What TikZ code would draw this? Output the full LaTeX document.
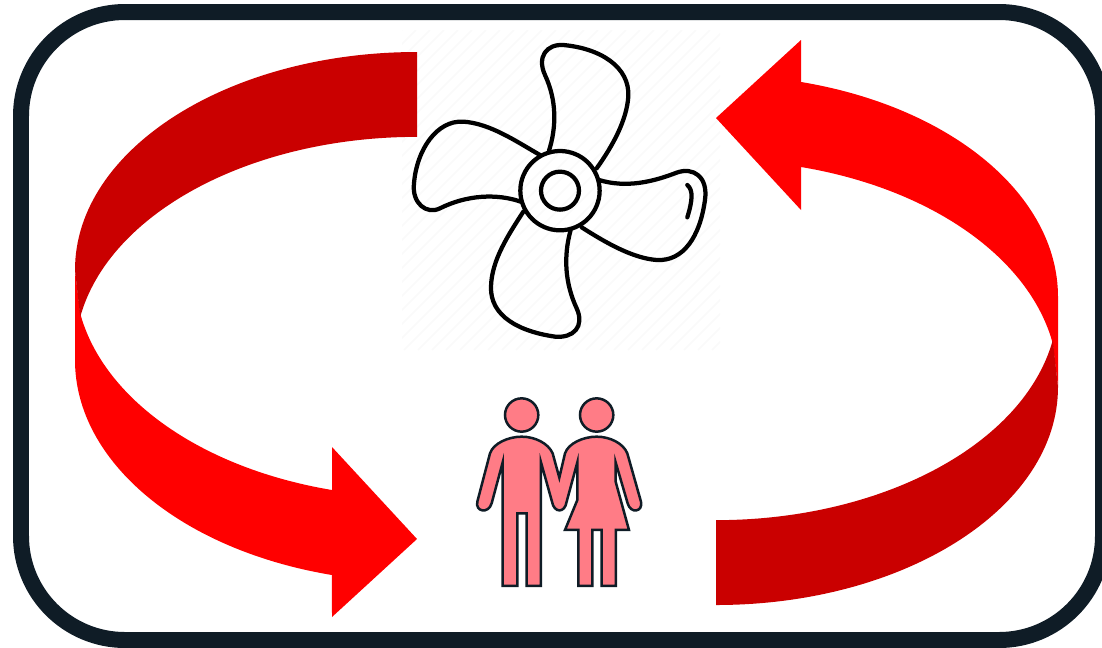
\documentclass[tikz,border=0pt]{standalone}
\usepackage{xcolor}
\usepackage{tikz}
\definecolor{FlowBright}{HTML}{FF0000}
\definecolor{FlowDark}{HTML}{CA0000}
\definecolor{FrameDark}{HTML}{0F1C26}
\definecolor{PersonFill}{HTML}{FF7C86}
\definecolor{HatchGray}{HTML}{FAFAFA}
\tikzset{
  frame/.style={
    draw=FrameDark,
    line width=0.32cm,
    rounded corners=2.08cm
  },
  bandbright/.style={
    fill=FlowBright
  },
  banddark/.style={
    fill=FlowDark
  },
  fanline/.style={
    draw=black,
    line width=0.085cm,
    line cap=round,
    line join=round
  },
  person/.style={
    draw=FrameDark,
    fill=PersonFill,
    line width=0.05cm,
    line join=miter
  },
  hatch/.style={
    draw=HatchGray,
    line width=0.03cm
  },
  flowarrow/.pic={
    \fill[bandbright]
      (75,270) -- (75,360)
      arc[start angle=180, end angle=104.4, x radius=342, y radius=222]
      -- (332,617) -- (417,539) -- (332,447) -- (332,490)
      arc[start angle=104.4, end angle=170, x radius=342, y radius=222]
      -- cycle;
    \fill[banddark]
      (417,52)
      arc[start angle=270, end angle=180, x radius=342, y radius=218]
      -- (80.2,317)
      arc[start angle=190, end angle=270, x radius=342, y radius=218]
      -- cycle;
  }
}

\begin{document}
\begin{tikzpicture}[x=0.02cm,y=-0.02cm]

  \useasboundingbox (0,0) rectangle (1102,647);

  % faint hatching behind the fan
  \begin{scope}
    \clip (402,30) rectangle (720,350);
    \foreach \offset in {0,14,...,640} {
      \draw[hatch] (402+\offset-320,350) -- (402+\offset,30);
    }
  \end{scope}

  \draw[frame] (21,12) rectangle (1103,640);

  \pic at (0,0) {flowarrow};
  \pic[rotate=180] at (1133,657) {flowarrow};

  % fan
  \begin{scope}[shift={(400,30)},scale=0.3333]
    \draw[fanline] (480,482) circle[radius=119];
    \draw[fanline] (480,482) circle[radius=57];
    \draw[fanline] (447,362) .. controls (470,290) and (470,210) .. (435,135)
      .. controls (410,80) and (440,42) .. (490,45)
      .. controls (600,55) and (690,110) .. (685,200)
      .. controls (680,270) and (640,345) .. (590,415);
    \draw[fanline] (597,450) .. controls (680,475) and (760,455) .. (830,428)
      .. controls (880,410) and (925,440) .. (915,510)
      .. controls (900,620) and (850,695) .. (770,690)
      .. controls (700,685) and (620,640) .. (545,592);
    \draw[fanline] (862,465) .. controls (880,480) and (878,510) .. (862,562);
    \draw[fanline] (512,600) .. controls (490,680) and (495,760) .. (530,835)
      .. controls (555,890) and (520,925) .. (465,920)
      .. controls (360,905) and (270,860) .. (273,770)
      .. controls (275,690) and (325,615) .. (370,545);
    \draw[fanline] (362,515) .. controls (290,490) and (200,495) .. (120,535)
      .. controls (80,555) and (35,520) .. (42,460)
      .. controls (50,360) and (110,270) .. (190,275)
      .. controls (270,280) and (350,335) .. (420,375);
  \end{scope}

  % couple
  \begin{scope}[shift={(460,385)},scale=0.3333]
    \draw[person] (185,90) circle[radius=50];
    \draw[person] (410,90) circle[radius=50];
    \draw[person]
      (128,232) -- (128,603) -- (172,603) -- (172,385) -- (200,385)
      -- (200,603) -- (243,603) -- (243,232) -- (276,350)
      .. controls (282,385) and (315,385) .. (320,350)
      -- (352,232) -- (352,345) -- (315,435) -- (355,435) -- (355,603)
      -- (397,603) -- (397,435) -- (425,435) -- (425,603) -- (468,603)
      -- (468,435) -- (507,435) -- (467,290) -- (467,232) -- (503,355)
      .. controls (512,388) and (550,380) .. (543,350)
      -- (502,205)
      .. controls (490,175) and (450,155) .. (410,155)
      .. controls (370,155) and (325,175) .. (315,205)
      -- (298,278) -- (278,205)
      .. controls (265,175) and (225,155) .. (185,155)
      .. controls (145,155) and (100,175) .. (90,205)
      -- (52,350)
      .. controls (45,380) and (85,388) .. (95,355)
      -- cycle;
  \end{scope}

\end{tikzpicture}
\end{document}
